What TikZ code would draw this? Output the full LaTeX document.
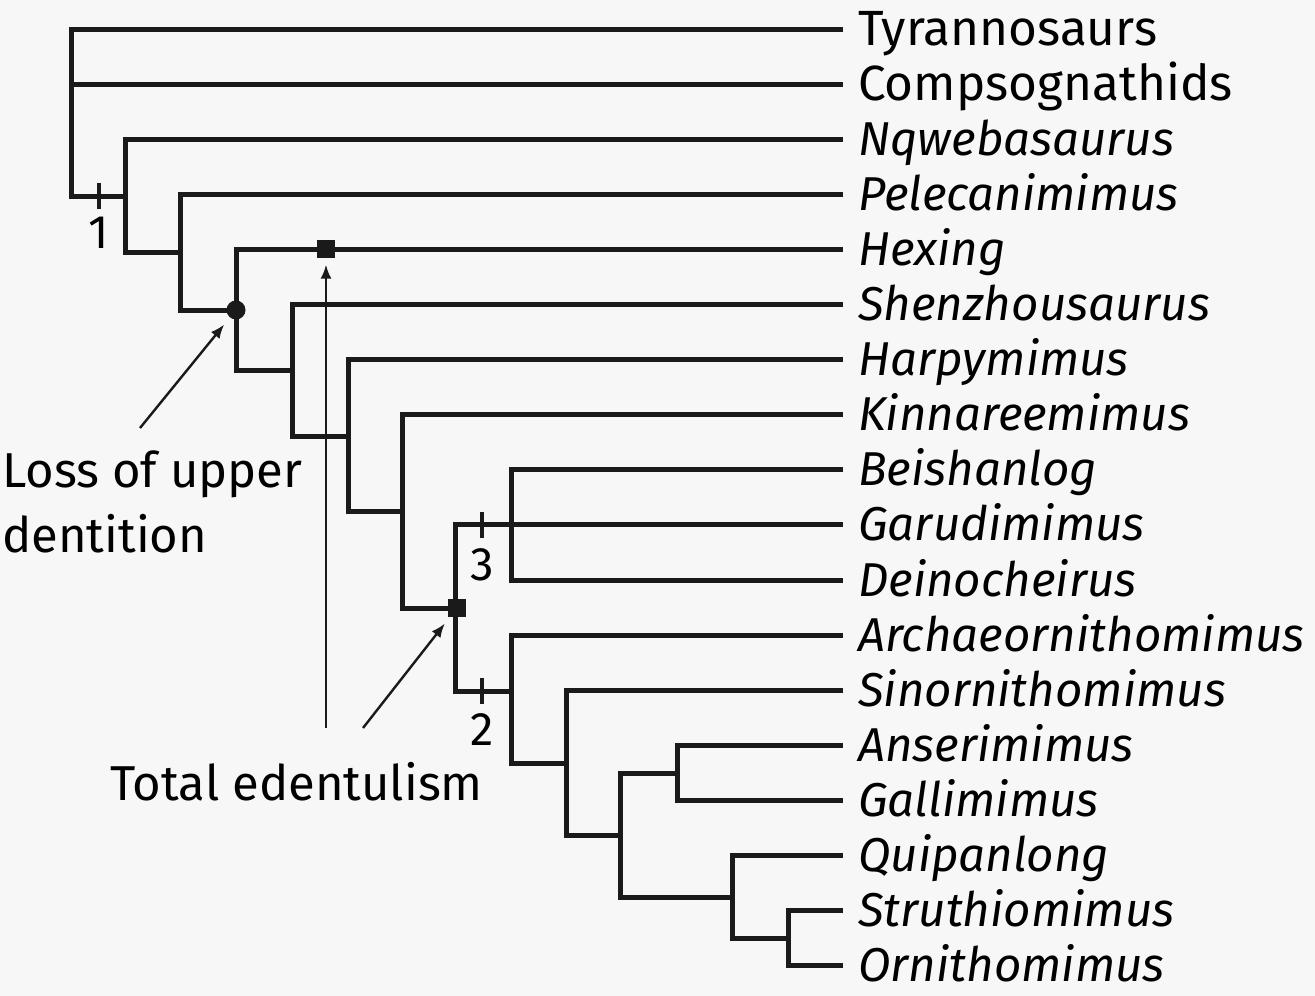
\documentclass[tikz,border=0pt]{standalone}
\usepackage{fontspec}
\setmainfont{Fira Sans}
\usetikzlibrary{arrows.meta}
\definecolor{bgc}{HTML}{F7F7F7}
\definecolor{ink}{HTML}{1A1A1A}
\begin{document}
\begin{tikzpicture}[x=1pt,y=-1pt,
  branch/.style={draw=ink,line width=5pt,line join=miter},
  tickmark/.style={draw=ink,line width=4.5pt},
  arr/.style={draw=ink,line width=2.4pt,-{Latex[length=14pt,width=11pt]}},
  taxon/.style={anchor=base west,inner sep=0pt,font=\fontsize{49.5}{55}\selectfont,text=black},
  itaxon/.style={taxon,font=\fontsize{47.5}{55}\selectfont\itshape},
  num/.style={anchor=base,inner sep=0pt,font=\fontsize{47}{50}\selectfont,text=black},
  note/.style={inner sep=0pt,font=\fontsize{49}{65}\selectfont,text=black}]
\fill[bgc] (0,0) rectangle (1315,996);
\useasboundingbox (0,0) rectangle (1315,996);
% leaf line ends
\foreach \i/\n in {0/Tyr,1/Com,2/Nqw,3/Pel,4/Hex,5/She,6/Har,7/Kin,8/Bei,9/Gar,10/Dei,11/Arc,12/Sin,13/Ans,14/Gal,15/Qui,16/Str,17/Orn}
  \coordinate (\n) at (843,{29+55.1*\i});
% internal nodes
\coordinate (A) at (71,29);
\coordinate (B) at (125,196);
\coordinate (C) at (180,252);
\coordinate (D) at (236,310);
\coordinate (E) at (292,370);
\coordinate (F) at (348,436);
\coordinate (G) at (402,511);
\coordinate (H) at (455,608);
\coordinate (I) at (511,524.9);
\coordinate (J) at (511,691);
\coordinate (K) at (566,763);
\coordinate (L) at (620,835);
\coordinate (M) at (677,773);
\coordinate (N) at (732,897);
\coordinate (O) at (788,938);
% branches
\draw[branch] (Tyr) -| (A) |- (B);
\draw[branch] (Com) -- (A |- Com);
\draw[branch] (Nqw) -| (B) |- (C);
\draw[branch] (Pel) -| (C) |- (D);
\draw[branch] (Hex) -| (D) |- (E);
\draw[branch] (She) -| (E) |- (F);
\draw[branch] (Har) -| (F) |- (G);
\draw[branch] (Kin) -| (G) |- (H);
\draw[branch] (Gar) -| (H) |- (J);
\draw[branch] (Bei) -| (I) |- (Dei);
\draw[branch] (Arc) -| (J) |- (K);
\draw[branch] (Sin) -| (K) |- (L);
\draw[branch] (M) -| (L) |- (N);
\draw[branch] (Ans) -| (M) |- (Gal);
\draw[branch] (Qui) -| (N) |- (O);
\draw[branch] (Str) -| (O) |- (Orn);
% ticks
\coordinate (t1) at (99,196);
\coordinate (t3) at (482,524.9);
\coordinate (t2) at (482,691);
\foreach \t in {t1,t2,t3}
  \draw[tickmark] ([yshift=13pt]\t) -- ([yshift=-13pt]\t);
\node[num] (n1) at (99,248) {1};
\node[num] (n3) at (482,580) {3};
\node[num] (n2) at (482,745) {2};
% markers
\node[circle,fill=ink,minimum size=19pt,inner sep=0pt] (dot) at (D) {};
\node[rectangle,fill=ink,minimum size=18pt,inner sep=0pt] (sqH) at (326,249.4) {};
\node[rectangle,fill=ink,minimum size=18pt,inner sep=0pt] (sqB) at (457,608) {};
% taxa labels
\foreach \n/\t in {Tyr/Tyrannosaurs,Com/Compsognathids}
  \node[taxon] (l\n) at ([xshift=15pt,yshift=-16pt]\n) {\t};
\foreach \n/\t in {Nqw/Nqwebasaurus,Pel/Pelecanimimus,Hex/Hexing,She/Shenzhousaurus,Har/Harpymimus,Kin/Kinnareemimus,Bei/Beishanlog,Gar/Garudimimus,Dei/Deinocheirus,Arc/Archaeornithomimus,Sin/Sinornithomimus,Ans/Anserimimus,Gal/Gallimimus,Qui/Quipanlong,Str/Struthiomimus,Orn/Ornithomimus}
  \node[itaxon] (l\n) at ([xshift=15pt,yshift=-16pt]\n) {\t};
% annotations
\node[note,anchor=base west,align=left] (loss) at (2,552) {Loss of upper\\dentition};
\node[note,anchor=base west] (total) at (110,800) {Total edentulism};
\coordinate (a1) at (140,428);
\coordinate (a2) at (326,728);
\coordinate (a3) at (363,728);
\draw[arr,shorten >=9pt] (a1) -- (dot);
\draw[arr,shorten >=6pt] (a2) -- (sqH);
\draw[arr,shorten >=8pt] (a3) -- (sqB);
\end{tikzpicture}
\end{document}
